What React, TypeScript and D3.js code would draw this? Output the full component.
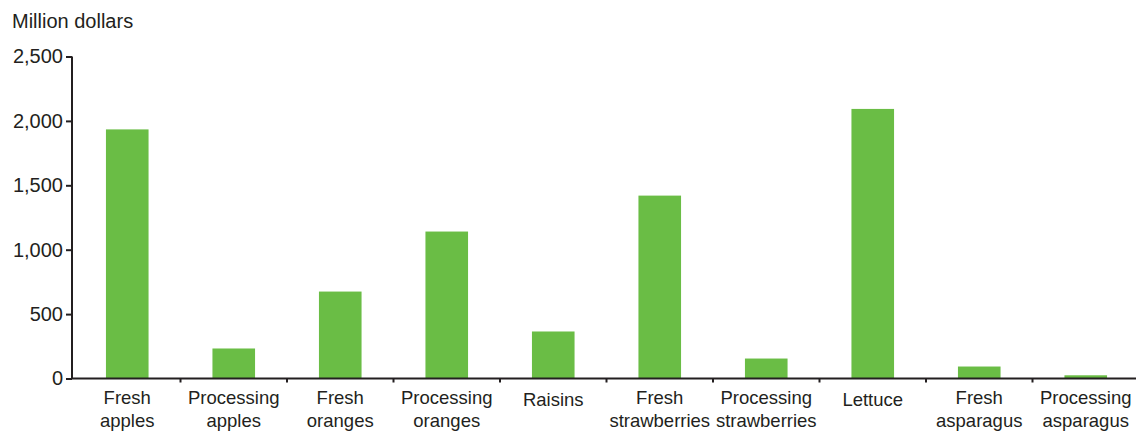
import React, { useEffect, useRef } from 'react';
import * as d3 from 'd3';

const categories = [
  'Fresh apples',
  'Processing apples',
  'Fresh oranges',
  'Processing oranges',
  'Raisins',
  'Fresh strawberries',
  'Processing strawberries',
  'Lettuce',
  'Fresh asparagus',
  'Processing asparagus',
];
const values = [1934, 233, 675, 1141, 365, 1420, 155, 2093, 93, 25];
const yTicks = [0, 500, 1000, 1500, 2000, 2500];
const yTitle = 'Million dollars';

const W = 1136;
const H = 435;
const FONT = '"Liberation Sans", Arial, Helvetica, sans-serif';
const INK = '#231f20';
const GREEN = '#6abd45';

export default function App() {
  const svgRef = useRef<SVGSVGElement>(null);

  useEffect(() => {
    document.body.style.margin = '0';
    if (!svgRef.current) return;
    const svg = d3.select(svgRef.current);
    svg.selectAll('*').remove();

    const left = 72;
    const top = 56.5;
    const bottom = 378.5;

    const x = d3.scaleBand().domain(categories).range([74, 1139]).paddingInner(0.6).paddingOuter(0.3);
    const y = d3.scaleLinear().domain([0, 2500]).range([bottom, top]);

    // bars
    svg.append('g')
      .selectAll('rect')
      .data(values)
      .enter()
      .append('rect')
      .attr('x', (_, i) => x(categories[i]) || 0)
      .attr('width', x.bandwidth())
      .attr('y', d => y(d))
      .attr('height', d => bottom - y(d))
      .attr('fill', GREEN);

    // y axis
    const yAxis = svg.append('g')
      .attr('transform', `translate(${left},0)`)
      .call(d3.axisLeft(y).tickValues(yTicks).tickSize(6).tickPadding(3).tickFormat(d3.format(',')));
    yAxis.select('.domain').attr('stroke', INK).attr('stroke-width', 2).attr('d', `M0,${top}V${bottom}`);
    yAxis.selectAll('line').attr('stroke', INK).attr('stroke-width', 2);
    yAxis.selectAll('text')
      .attr('fill', INK)
      .style('font-family', FONT)
      .style('font-size', '20px');

    // x axis with ticks at category boundaries
    const gx = svg.append('g');
    gx.append('line')
      .attr('x1', left)
      .attr('x2', W)
      .attr('y1', bottom)
      .attr('y2', bottom)
      .attr('stroke', INK)
      .attr('stroke-width', 2);
    const step = x.step();
    const bounds = categories.slice(1).map(c => (x(c) || 0) - step * 0.3);
    gx.selectAll('line.tick')
      .data(bounds)
      .enter()
      .append('line')
      .attr('class', 'tick')
      .attr('x1', d => d)
      .attr('x2', d => d)
      .attr('y1', bottom)
      .attr('y2', bottom + 4)
      .attr('stroke', INK)
      .attr('stroke-width', 2);

    // category labels
    categories.forEach(c => {
      const cx = (x(c) || 0) + x.bandwidth() / 2;
      const words = c.split(' ');
      const t = svg.append('text')
        .attr('text-anchor', 'middle')
        .attr('fill', INK)
        .style('font-family', FONT)
        .style('font-size', '18.5px');
      const y0 = words.length > 1 ? 404 : 406;
      words.forEach((w, i) => {
        t.append('tspan').attr('x', cx).attr('y', y0 + i * 23).text(w);
      });
    });

    // y title
    svg.append('text')
      .attr('x', 12)
      .attr('y', 28)
      .attr('fill', INK)
      .style('font-family', FONT)
      .style('font-size', '20px')
      .text(yTitle);
  }, []);

  return <svg ref={svgRef} width={W} height={H} style={{ display: 'block', background: '#fff' }} />;
}
